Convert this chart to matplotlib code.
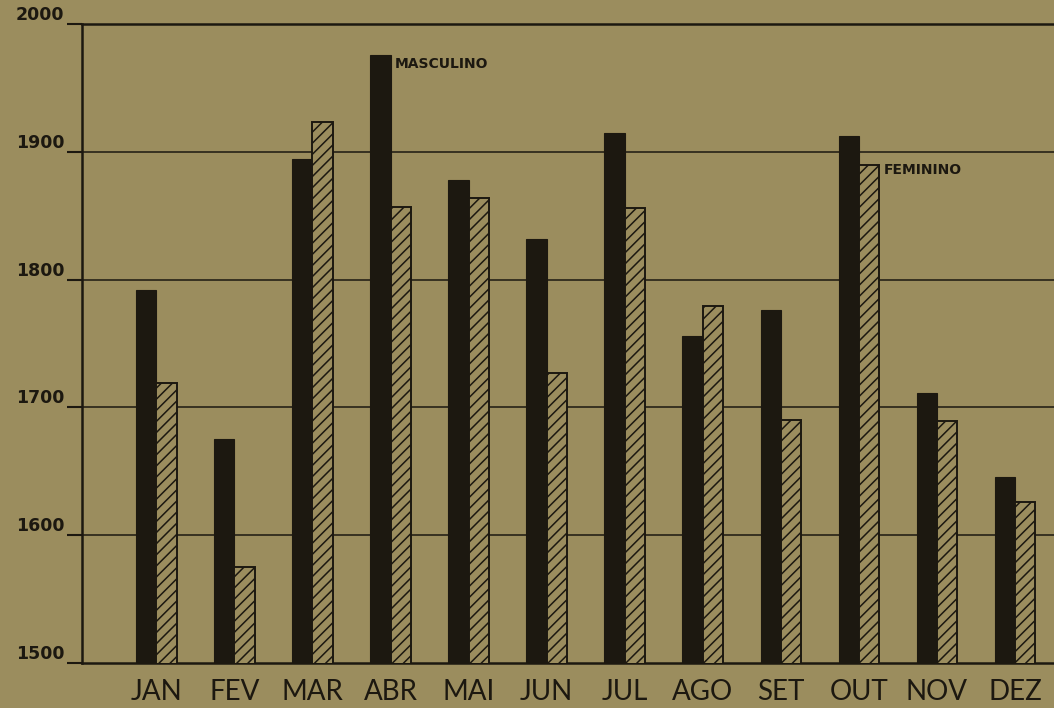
import matplotlib.pyplot as plt
import numpy as np

BG = '#9b8d5e'
INK = '#1c1810'

months = ['JAN', 'FEV', 'MAR', 'ABR', 'MAI', 'JUN', 'JUL', 'AGO', 'SET', 'OUT', 'NOV', 'DEZ']
masculino = [1792, 1675, 1894, 1976, 1878, 1832, 1915, 1756, 1776, 1912, 1711, 1645]
feminino = [1719, 1575, 1923, 1857, 1864, 1727, 1856, 1779, 1690, 1890, 1689, 1626]
y_ticks = [1500, 1600, 1700, 1800, 1900, 2000]

plt.rcParams['hatch.linewidth'] = 1.1
plt.rcParams['hatch.color'] = INK

fig = plt.figure(figsize=(10.54, 7.08), dpi=100, facecolor=BG)
ax = fig.add_axes([0.078, 0.064, 0.922, 0.902], facecolor=BG)

x = np.arange(len(months))
w = 0.26
ax.bar(x - w / 2, masculino, width=w, color=INK, edgecolor=INK, linewidth=0.8, zorder=3)
ax.bar(x + w / 2, feminino, width=w, color=BG, edgecolor=INK, linewidth=1.4, hatch='///', zorder=3)

ax.set_xlim(-0.95, 11.5)
ax.set_ylim(1500, 2000)

ax.set_yticks(y_ticks)
ax.set_yticklabels([str(v) for v in y_ticks], fontsize=12.5, fontweight='bold', color=INK,
                   family='DejaVu Sans')
for lbl in ax.get_yticklabels():
    lbl.set_va('bottom')
ax.tick_params(axis='y', direction='out', length=11, width=1.5, color=INK, pad=2)

ax.set_xticks(x)
ax.set_xticklabels(months, fontsize=20, color=INK, family='Lato')
ax.tick_params(axis='x', length=0, pad=12)

for v in y_ticks[1:-1]:
    ax.axhline(v, color=INK, linewidth=1.1, zorder=1)

for side in ['top', 'bottom', 'left']:
    ax.spines[side].set_color(INK)
    ax.spines[side].set_linewidth(1.8)
ax.spines['right'].set_visible(False)

ax.text(3 + 0.05, 1969, 'MASCULINO', fontsize=10, fontweight='bold', color=INK,
        va='center', ha='left', family='DejaVu Sans')
ax.text(9 + w + 0.06, 1886, 'FEMININO', fontsize=10, fontweight='bold', color=INK,
        va='center', ha='left', family='DejaVu Sans')

fig.savefig('out.png', dpi=100, facecolor=BG)
